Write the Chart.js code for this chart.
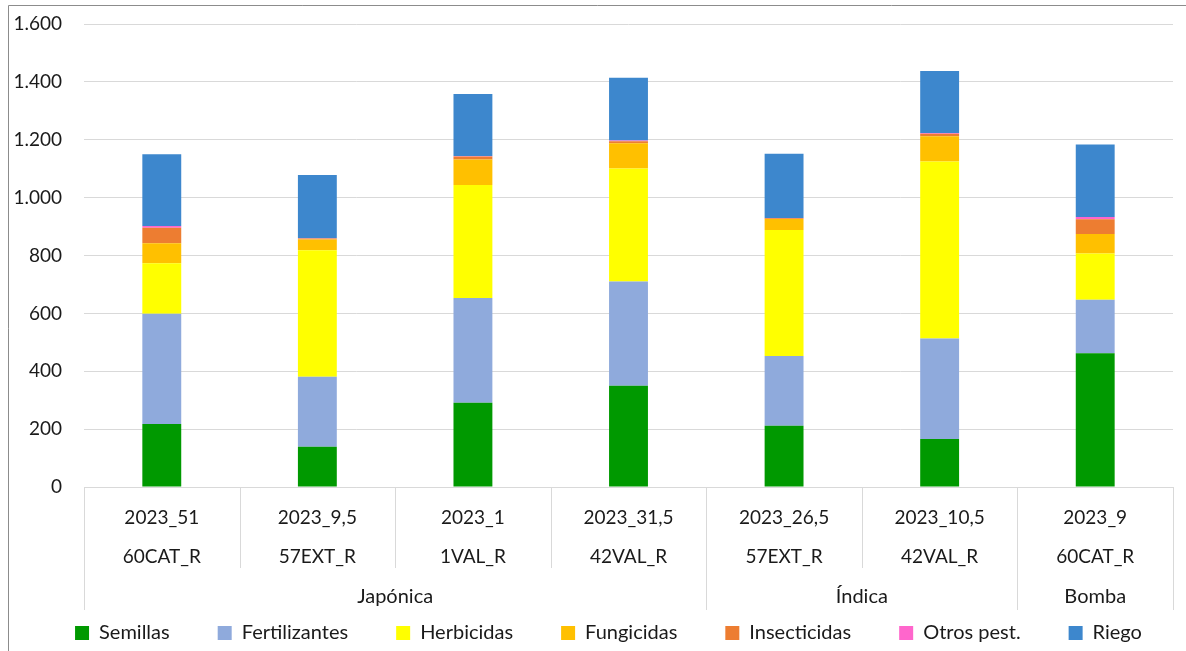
<!DOCTYPE html>
<html>
<head>
<meta charset="utf-8">
<script src="https://cdn.jsdelivr.net/npm/chart.js@4.4.1/dist/chart.umd.min.js"></script>
<style>
  html, body { margin: 0; padding: 0; background: #fff; }
  #wrap { width: 1186px; height: 651px; position: relative; }
</style>
</head>
<body>
<div id="wrap"><canvas id="costChart" width="1186" height="651"></canvas></div>
<script>
// categorías (año_dosis / ensayo) y grupos de variedad
const years = ['2023_51', '2023_9,5', '2023_1', '2023_31,5', '2023_26,5', '2023_10,5', '2023_9'];
const trials = ['60CAT_R', '57EXT_R', '1VAL_R', '42VAL_R', '57EXT_R', '42VAL_R', '60CAT_R'];
const groupNames = ['Japónica', 'Índica', 'Bomba'];
const groupSizes = [4, 2, 1];

// costes por partida
const semillas      = [218, 139, 291, 350, 212, 166, 462];
const fertilizantes = [381, 242, 362, 360, 241, 347, 185];
const herbicidas    = [174, 437, 391, 391, 435, 612, 160];
const fungicidas    = [69, 37, 88, 87, 38, 87, 67];
const insecticidas  = [54, 4, 10, 7, 3, 9, 51];
const otrosPest     = [6, 1, 2, 2, 1, 2, 8];
const riego         = [248, 218, 214, 217, 222, 215, 251];

const yTicks = [0, 200, 400, 600, 800, 1000, 1200, 1400, 1600];

const FONT = 'Lato, "Noto Sans", sans-serif';
const TXT = '#1a1a1a';
const LINE = '#d9d9d9';
const LEGEND_SHIFT = 22;
const LEGEND_LIFT = 35;

const fmt = v => String(v).replace(/\B(?=(\d{3})+(?!\d))/g, '.');

const groupPlugin = {
  id: 'groupPlugin',
  afterLayout(chart) {
    const lg = chart.legend;
    lg.left += LEGEND_SHIFT;
    lg.right += LEGEND_SHIFT;
    lg.top -= LEGEND_LIFT;
    lg.bottom -= LEGEND_LIFT;
  },
  afterDraw(chart) {
    const ctx = chart.ctx;
    const x = chart.scales.x;
    const base = chart.chartArea.bottom;
    const half = (x.getPixelForValue(1) - x.getPixelForValue(0)) / 2;
    ctx.save();
    ctx.strokeStyle = LINE;
    ctx.lineWidth = 1;
    // separadores entre categorías
    let idx = 0;
    const groupEdges = [0];
    groupSizes.forEach(n => { idx += n; groupEdges.push(idx); });
    for (let i = 0; i <= years.length; i++) {
      const px = Math.round(x.getPixelForValue(i) - half) + 0.5;
      const isGroup = groupEdges.includes(i);
      ctx.beginPath();
      ctx.moveTo(px, base);
      ctx.lineTo(px, isGroup ? 610 : 568);
      ctx.stroke();
    }
    // etiquetas de grupo
    ctx.fillStyle = TXT;
    ctx.font = '20px ' + FONT;
    ctx.textAlign = 'center';
    ctx.textBaseline = 'middle';
    groupNames.forEach((g, k) => {
      const a = x.getPixelForValue(groupEdges[k]) - half;
      const b = x.getPixelForValue(groupEdges[k + 1]) - half;
      ctx.fillText(g, (a + b) / 2, 597);
    });
    // marco del gráfico
    ctx.strokeStyle = '#8c8c8c';
    ctx.beginPath();
    ctx.moveTo(8.5, 651);
    ctx.lineTo(8.5, 5.5);
    ctx.lineTo(1186, 5.5);
    ctx.stroke();
    ctx.restore();
  }
};

const mk = (label, data, color) => ({
  label, data, backgroundColor: color, borderWidth: 0,
  categoryPercentage: 1, barPercentage: 0.25
});

new Chart(document.getElementById('costChart'), {
  type: 'bar',
  data: {
    labels: years.map((y, i) => [y, trials[i]]),
    datasets: [
      mk('Semillas', semillas, '#009900'),
      mk('Fertilizantes', fertilizantes, '#8faadc'),
      mk('Herbicidas', herbicidas, '#ffff00'),
      mk('Fungicidas', fungicidas, '#ffc000'),
      mk('Insecticidas', insecticidas, '#ed7d31'),
      mk('Otros pest.', otrosPest, '#ff66cc'),
      mk('Riego', riego, '#3d87cd')
    ]
  },
  options: {
    responsive: false,
    animation: false,
    layout: { padding: { top: 24, left: 0, right: 13, bottom: -37 } },
    scales: {
      x: {
        stacked: true,
        grid: { display: false },
        border: { color: LINE },
        ticks: {
          color: TXT,
          padding: 3,
          maxRotation: 0,
          font: { family: FONT, size: 19, lineHeight: 39 / 19 }
        },
        afterFit: s => { s.height = 123; }
      },
      y: {
        stacked: true,
        min: 0,
        max: 1600,
        afterBuildTicks: s => { s.ticks = yTicks.map(v => ({ value: v })); },
        grid: { color: LINE, drawTicks: false },
        border: { display: false },
        ticks: {
          color: TXT,
          padding: 22,
          font: { family: FONT, size: 19 },
          callback: v => fmt(v)
        },
        afterFit: s => { s.width = 84; s.paddingTop = 0; s.paddingBottom = 0; }
      }
    },
    plugins: {
      legend: {
        position: 'bottom',
        labels: {
          color: TXT,
          boxWidth: 14,
          boxHeight: 14,
          padding: 48,
          font: { family: FONT, size: 20 }
        }
      },
      tooltip: { enabled: false }
    }
  },
  plugins: [groupPlugin]
});
</script>
</body>
</html>
